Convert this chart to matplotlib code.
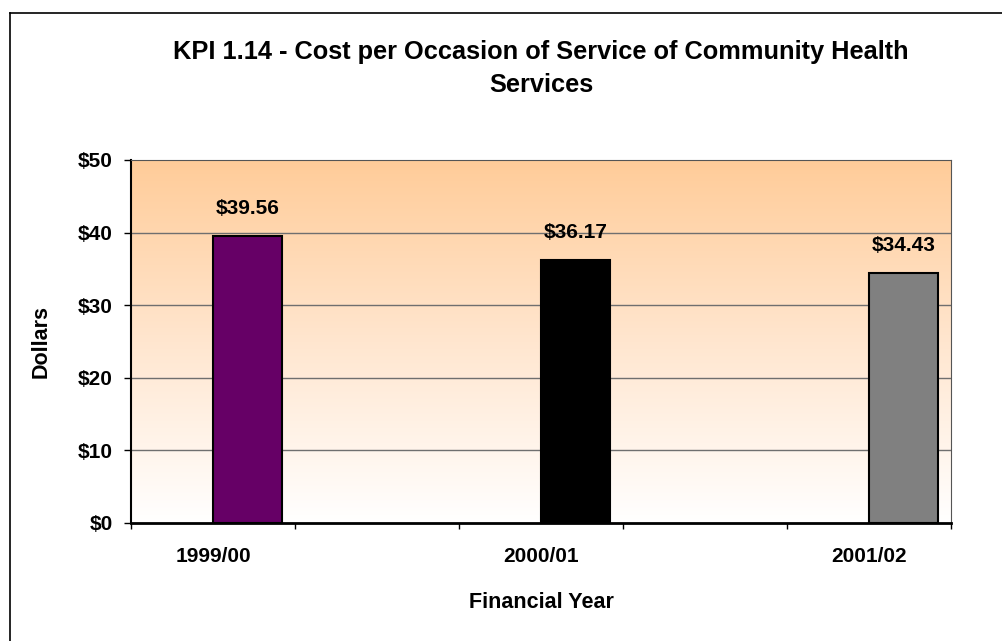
import numpy as np
import matplotlib
matplotlib.use("Agg")
import matplotlib.pyplot as plt
from matplotlib.colors import LinearSegmentedColormap
from matplotlib.lines import Line2D

years = ["1999/00", "2000/01", "2001/02"]
cost = [39.56, 36.17, 34.43]
bar_colors = ["#660066", "#000000", "#808080"]
yticks = [0, 10, 20, 30, 40, 50]

plt.rcParams['font.family'] = ['Liberation Sans', 'DejaVu Sans']
plt.rcParams['font.weight'] = 'bold'

fig = plt.figure(figsize=(10.02, 6.41), dpi=100)
ax = fig.add_axes([0.1307, 0.1841, 0.8184, 0.5663])

# category slots: each year sits in every other slot of a 5-slot axis
n_slots = 2 * len(years) - 1
slot_pos = np.arange(len(years)) * 2
centers = slot_pos + 0.5
bar_w = 0.42

# gradient background (peach at top fading to white)
cmap = LinearSegmentedColormap.from_list("peach", ["#FFFFFF", "#FFE6CF", "#FFCC99"])
grad = np.linspace(0, 1, 256).reshape(-1, 1)
ax.imshow(grad, cmap=cmap, origin="lower", aspect="auto",
          extent=[0, n_slots, 0, 50], zorder=0)

for y in yticks[1:-1]:
    ax.axhline(y, color="#6f6f6f", lw=1.0, zorder=1)

bars = ax.bar(centers, cost, width=bar_w, align="edge", color=bar_colors,
              edgecolor="black", linewidth=1.5, zorder=2)

for x, v in zip(centers, cost):
    ax.annotate(f"${v:.2f}", (x + bar_w / 2, v), xytext=(0, 20),
                textcoords="offset points", ha="center", va="center",
                fontsize=15, fontweight="bold", zorder=3)

ax.set_xlim(0, n_slots)
ax.set_ylim(0, 50)

ax.set_yticks(yticks)
ax.set_yticklabels([f"${t}" for t in yticks], fontsize=15, fontweight="bold")
ax.tick_params(axis="y", direction="out", length=5, width=1, pad=8)

ax.set_xticks(np.arange(n_slots + 1))
ax.set_xticklabels([])
ax.set_xticks(centers, minor=True)
ax.set_xticklabels(years, minor=True, fontsize=15, fontweight="bold")
ax.tick_params(axis="x", which="major", direction="out", length=4, width=1)
ax.tick_params(axis="x", which="minor", length=0, pad=17)

ax.set_xlabel("Financial Year", fontsize=15.5, fontweight="bold", labelpad=19)
ax.set_ylabel("Dollars", fontsize=15.5, fontweight="bold", labelpad=19)

ax.spines["left"].set_color("black")
ax.spines["bottom"].set_color("black")
ax.spines["left"].set_linewidth(1.5)
ax.spines["bottom"].set_linewidth(2)
ax.spines["top"].set_color("#555555")
ax.spines["right"].set_color("#555555")

fig.text(0.54, 1 - 68.5 / 641, "KPI 1.14 - Cost per Occasion of Service of Community Health\nServices",
         ha="center", va="center", fontsize=18.3, fontweight="bold", linespacing=1.45)

# outer chart border (cropped at right and bottom)
fx0 = 10 / 1002
fy0 = 1 - 13 / 641
fig.add_artist(Line2D([fx0, fx0], [-0.01, fy0], color="black", lw=1.2, transform=fig.transFigure))
fig.add_artist(Line2D([fx0, 1.01], [fy0, fy0], color="black", lw=1.2, transform=fig.transFigure))

fig.savefig("out.png", dpi=100)
